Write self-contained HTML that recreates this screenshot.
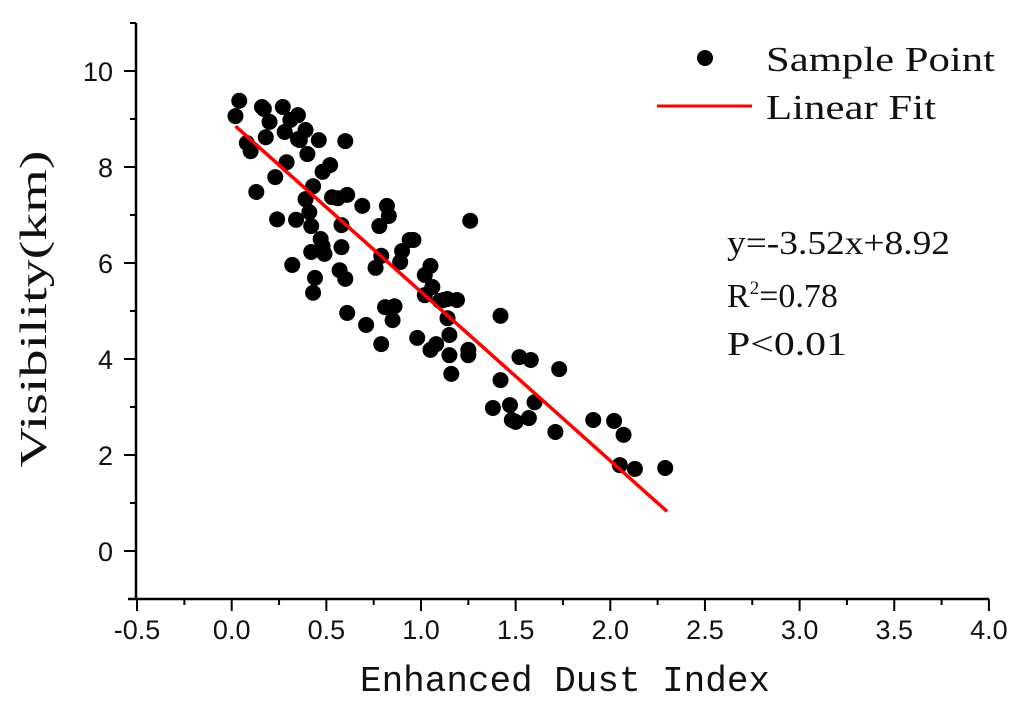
<!DOCTYPE html>
<html><head><meta charset="utf-8"><style>
html,body{margin:0;padding:0;background:#fff;}
svg{display:block;}
text{fill:#111;}
</style></head><body>
<svg id="chart" width="1024" height="704" xmlns="http://www.w3.org/2000/svg">
<g id="axes"></g>
<g id="points"></g>
<g id="fit"></g>
<g>
  <circle cx="705" cy="58" r="8" fill="#000"/>
  <text x="766" y="71" font-family="Liberation Serif, serif" font-size="35" textLength="229" lengthAdjust="spacingAndGlyphs">Sample Point</text>
  <line x1="657" y1="106" x2="752" y2="106" stroke="#ff0000" stroke-width="3"/>
  <text x="766" y="119" font-family="Liberation Serif, serif" font-size="35" textLength="170" lengthAdjust="spacingAndGlyphs">Linear Fit</text>
</g>
<g font-family="Liberation Serif, serif" font-size="34">
  <text x="727" y="254" textLength="223" lengthAdjust="spacingAndGlyphs">y=-3.52x+8.92</text>
  <text x="727" y="307">R<tspan dy="-13" font-size="19">2</tspan><tspan dy="13">=0.78</tspan></text>
  <text x="727" y="355" textLength="120" lengthAdjust="spacingAndGlyphs">P&lt;0.01</text>
</g>
<text x="565" y="691" text-anchor="middle" font-family="Liberation Mono, monospace" font-size="36" textLength="410" lengthAdjust="spacingAndGlyphs">Enhanced Dust Index</text>
<text transform="translate(46,309) rotate(-90)" text-anchor="middle" font-family="Liberation Serif, serif" font-size="38" textLength="317" lengthAdjust="spacingAndGlyphs">Visibility(km)</text>
</svg>
<script>
const xTicks=[-0.5,0,0.5,1,1.5,2,2.5,3,3.5,4];
const xTickLabels=["-0.5","0.0","0.5","1.0","1.5","2.0","2.5","3.0","3.5","4.0"];
const yTicks=[0,2,4,6,8,10];
const yTickLabels=["0","2","4","6","8","10"];
const ptX=[0.02,0.04,0.08,0.10,0.13,0.16,0.17,0.18,0.20,0.23,0.24,0.27,0.28,0.29,0.31,0.32,0.34,0.35,0.35,0.36,0.39,0.39,0.40,0.41,0.42,0.43,0.46,0.48,0.44,0.47,0.42,0.49,0.43,0.48,0.52,0.53,0.56,0.58,0.60,0.58,0.61,0.57,0.60,0.61,0.69,0.71,0.76,0.78,0.79,0.79,0.81,0.82,0.83,0.85,0.86,0.89,0.90,0.94,0.96,0.98,1.02,1.02,1.05,1.05,1.06,1.08,1.10,1.12,1.15,1.14,1.14,1.19,1.15,1.16,1.25,1.25,1.26,1.38,1.42,1.42,1.47,1.50,1.48,1.52,1.58,1.57,1.60,1.71,1.73,1.91,2.02,2.07,2.05,2.13,2.29];
const ptY=[9.06,9.38,8.50,8.33,7.48,9.25,9.21,8.62,8.94,7.79,6.91,9.25,8.73,8.10,8.98,5.96,6.90,8.58,9.08,8.56,7.33,8.77,8.27,7.06,6.23,7.60,8.56,7.90,5.69,6.50,6.77,6.19,5.38,6.35,8.04,7.37,7.35,6.79,8.54,6.33,7.42,5.85,5.67,4.96,7.19,4.71,5.90,6.77,6.15,4.31,5.08,7.19,6.98,4.81,5.10,6.02,6.25,6.48,6.48,4.44,5.33,5.75,5.94,4.19,5.50,4.31,5.21,5.23,4.08,5.25,4.85,5.23,4.50,3.69,4.19,4.08,6.88,2.98,4.90,3.56,3.04,2.69,2.73,4.04,3.98,2.77,3.10,2.48,3.79,2.73,2.71,2.42,1.79,1.71,1.73];
const fitX=[0.02,2.30];
const slope=-3.52, intercept=8.92;
const X0=136, XPX=189.3, Y0=551, YPX=48;
function sx(v){return 231.7+v*XPX;}
function sy(v){return Y0-v*YPX;}
const NS='http://www.w3.org/2000/svg';
function mk(tag,attrs,parent){const e=document.createElementNS(NS,tag);for(const k in attrs)e.setAttribute(k,attrs[k]);parent.appendChild(e);return e;}
const axes=document.getElementById('axes');
let e=mk('line',{x1:X0,y1:23,x2:X0,y2:sy(-1),stroke:'#000','stroke-width':2.5},axes);


e=mk('line',{x1:X0-8,y1:sy(-1),x2:989,y2:sy(-1),stroke:'#000','stroke-width':2.5},axes);


xTicks.forEach((v,i)=>{
  const t=mk('line',{x1:sx(v),y1:sy(-1),x2:sx(v),y2:sy(-1)+12,stroke:'#000','stroke-width':2},axes);
  
  
  if(i<xTicks.length-1){
    const m=mk('line',{x1:sx(v+0.25),y1:sy(-1),x2:sx(v+0.25),y2:sy(-1)+6,stroke:'#000','stroke-width':2},axes);
    
    
  }
  const l=mk('text',{x:sx(v),y:639,'text-anchor':'middle','font-family':'Liberation Sans, sans-serif','font-size':27},axes);
  l.textContent=xTickLabels[i];
  
  
});
yTicks.forEach((v,i)=>{
  const t=mk('line',{x1:X0-12,y1:sy(v),x2:X0,y2:sy(v),stroke:'#000','stroke-width':2},axes);
  
  
  const m=mk('line',{x1:X0-6,y1:sy(v+1),x2:X0,y2:sy(v+1),stroke:'#000','stroke-width':2},axes);
  
  
  const l=mk('text',{x:113,y:sy(v)+10,'text-anchor':'end','font-family':'Liberation Sans, sans-serif','font-size':27},axes);
  l.textContent=yTickLabels[i];
  
  
});
const pts=document.getElementById('points');
ptX.forEach((v,i)=>{
  const c=mk('circle',{cx:sx(v),cy:sy(ptY[i]),r:8,fill:'#000'},pts);
  
  
});
const fl=mk('line',{x1:sx(fitX[0]),y1:sy(slope*fitX[0]+intercept),x2:sx(fitX[1]),y2:sy(slope*fitX[1]+intercept),stroke:'#ff0000','stroke-width':3.5},document.getElementById('fit'));


</script>
</body></html>
